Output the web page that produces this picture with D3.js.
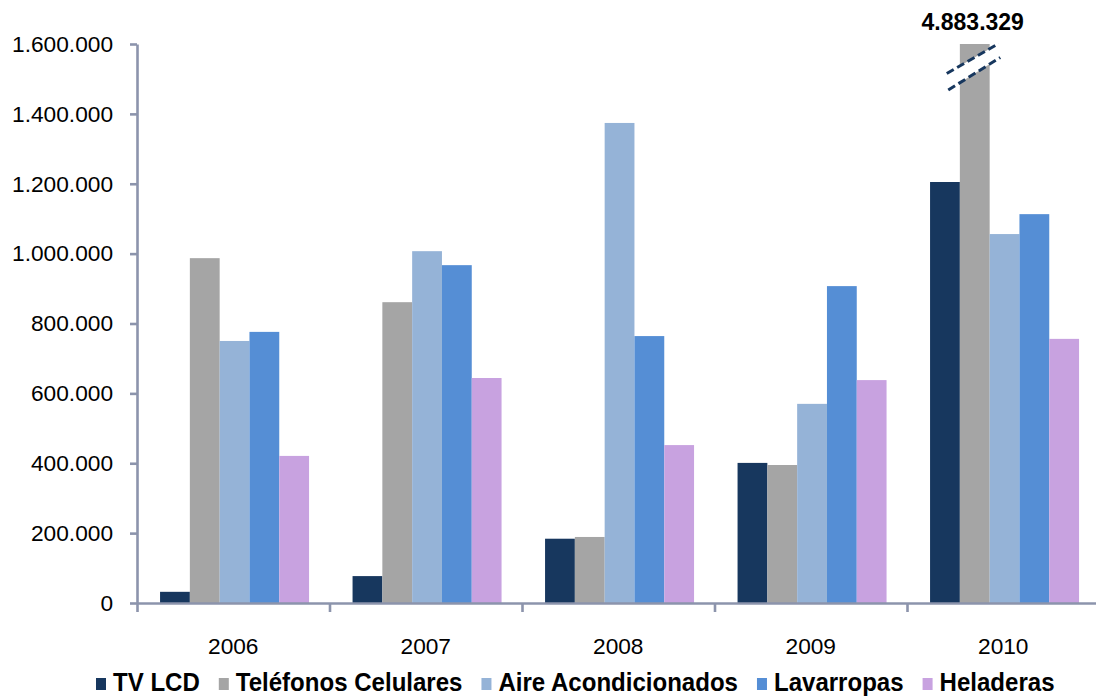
<!DOCTYPE html>
<html>
<head>
<meta charset="utf-8">
<script src="https://cdn.jsdelivr.net/npm/d3@7"></script>
<style>
  html, body { margin: 0; padding: 0; background: #ffffff; }
  svg { display: block; font-family: "Liberation Sans", Arial, sans-serif; }
</style>
</head>
<body>
<svg id="chart" width="1096" height="697"></svg>
<script>
// Unidades vendidas por año y producto
const years = ["2006", "2007", "2008", "2009", "2010"];
const seriesNames = ["TV LCD", "Teléfonos Celulares", "Aire Acondicionados", "Lavarropas", "Heladeras"];
const tvLcd = [32000, 77000, 184000, 401000, 1205000];
const telefonosCelulares = [987000, 861000, 189000, 395000, 4883329];
const aireAcondicionados = [750000, 1007000, 1374000, 570000, 1056000];
const lavarropas = [776000, 967000, 764000, 907000, 1113000];
const heladeras = [421000, 644000, 452000, 638000, 756000];
const yTicks = [0, 200000, 400000, 600000, 800000, 1000000, 1200000, 1400000, 1600000];
const colors = ["#17375E", "#A5A5A5", "#95B3D7", "#558ED5", "#C8A2E0"];

const seriesValues = [tvLcd, telefonosCelulares, aireAcondicionados, lavarropas, heladeras];
const rows = [];
years.forEach((yr, i) => {
  seriesNames.forEach((s, j) => rows.push({ year: yr, series: s, value: seriesValues[j][i], idx: j }));
});

const svg = d3.select("#chart");
const axisColor = "#8C94AC";

// Spanish number formatting: 1.600.000
const fmt = d3.formatLocale({ decimal: ",", thousands: ".", grouping: [3], currency: ["$", ""] }).format(",d");

const plot = { left: 137, right: 1099.5, top: 44, bottom: 603 };

const y = d3.scaleLinear()
  .domain([0, d3.max(yTicks)])
  .range([plot.bottom, plot.top])
  .clamp(true);

const x0 = d3.scaleBand().domain(years).range([plot.left, plot.right]).padding(0);
const x1 = d3.scaleBand().domain(seriesNames).range([0, x0.bandwidth()])
  .paddingInner(0).paddingOuter(0.73).align(0.53);
const color = d3.scaleOrdinal().domain(seriesNames).range(colors);

// Bars
svg.append("g").selectAll("rect")
  .data(rows)
  .join("rect")
  .attr("x", d => x0(d.year) + x1(d.series))
  .attr("y", d => y(d.value))
  .attr("width", x1.bandwidth())
  .attr("height", d => y(0) - y(d.value))
  .attr("fill", d => color(d.series));

// Y axis
const yAxis = svg.append("g")
  .attr("transform", `translate(${plot.left},0)`)
  .call(d3.axisLeft(y).tickValues(yTicks).tickFormat(fmt).tickSizeInner(7).tickSizeOuter(0).tickPadding(17));
yAxis.selectAll("text").style("font-size", "22.7px").attr("fill", "#000");

// X axis: category boundary ticks
const xb = d3.scaleLinear().domain([0, years.length]).range([plot.left, plot.right]);
const xAxis = svg.append("g")
  .attr("transform", `translate(0,${plot.bottom})`)
  .call(d3.axisBottom(xb).tickValues(d3.range(years.length + 1)).tickFormat("").tickSizeInner(9).tickSizeOuter(0));

// X axis: year labels
const xLab = svg.append("g")
  .attr("transform", `translate(0,${plot.bottom})`)
  .call(d3.axisBottom(x0).tickSize(0).tickPadding(35));
xLab.select(".domain").remove();
xLab.selectAll("text").style("font-size", "22.7px").attr("fill", "#000");

[yAxis, xAxis].forEach(g => {
  g.selectAll(".domain, line").attr("stroke", axisColor).attr("stroke-width", 2.6);
});

// Axis break on the value that exceeds the scale
const over = rows.filter(d => d.value > y.domain()[1]);
over.forEach(d => {
  const cx = x0(d.year) + x1(d.series) + x1.bandwidth() / 2;
  const t = y(y.domain()[1]);
  const top = [[cx - 28, t + 29.5], [cx + 24, t - 0.5]];
  const bot = [[cx - 26.5, t + 46], [cx + 25.5, t + 13.5]];
  svg.append("polygon")
    .attr("points", [top[0], top[1], bot[1], bot[0]].map(p => p.join(",")).join(" "))
    .attr("fill", "#ffffff");
  [top, bot].forEach(l => {
    svg.append("line")
      .attr("x1", l[0][0]).attr("y1", l[0][1])
      .attr("x2", l[1][0]).attr("y2", l[1][1])
      .attr("stroke", "#17375E").attr("stroke-width", 3)
      .attr("stroke-dasharray", "8,4");
  });
  svg.append("text")
    .attr("x", cx - 2)
    .attr("y", 30)
    .attr("text-anchor", "middle")
    .style("font-size", "23px")
    .style("font-weight", "bold")
    .text(fmt(d.value));
});

// Legend
const legend = svg.append("g").attr("transform", "translate(96,0)");
let lx = 0;
const squeeze = 0.925;
seriesNames.forEach((name, i) => {
  const g = legend.append("g").attr("transform", `translate(${lx},0)`);
  g.append("rect")
    .attr("x", 0).attr("y", 678).attr("width", 10).attr("height", 12)
    .attr("fill", colors[i]);
  const tg = g.append("g").attr("transform", `translate(17,691) scale(${squeeze},1)`);
  const t = tg.append("text")
    .attr("x", 0).attr("y", 0)
    .style("font-size", "26px")
    .style("font-weight", "bold")
    .attr("fill", "#000")
    .text(name);
  const w = t.node().getComputedTextLength() * squeeze;
  lx += 17 + w + 19;
});
</script>
</body>
</html>
